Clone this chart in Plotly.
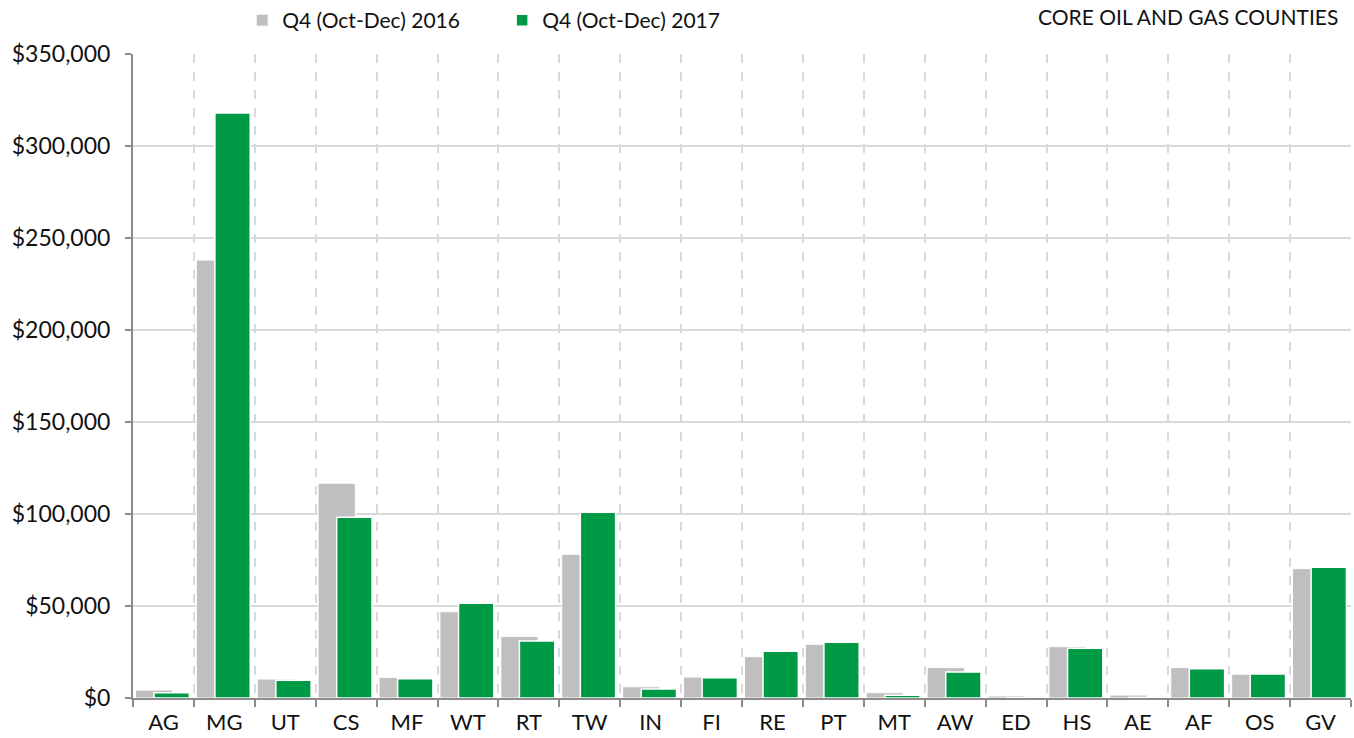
import plotly.graph_objects as go

# County codes and quarterly values (USD)
counties = ["AG", "MG", "UT", "CS", "MF", "WT", "RT", "TW", "IN", "FI",
            "RE", "PT", "MT", "AW", "ED", "HS", "AE", "AF", "OS", "GV"]
q4_2016 = [4300, 238000, 10300, 116700, 11200, 46900, 33500, 78100, 6100, 11400,
           22400, 29200, 2900, 16500, 1100, 27900, 1600, 16500, 12900, 70300]
q4_2017 = [2800, 318000, 9600, 98200, 10500, 51500, 31000, 100900, 4900, 11000,
           25400, 30300, 1500, 14100, 200, 27000, 300, 15900, 13000, 71000]

series_names = ["Q4 (Oct-Dec) 2016", "Q4 (Oct-Dec) 2017"]
y_ticks = [0, 50000, 100000, 150000, 200000, 250000, 300000, 350000]
y_tick_labels = [f"${v:,}" for v in y_ticks]
title_text = "CORE OIL AND GAS COUNTIES"

GRAY = "#bfbfbf"
GREEN = "#009a47"
FONT = "Lato, 'Open Sans', sans-serif"

fig = go.Figure()
fig.add_trace(go.Bar(
    x=counties, y=q4_2016, name=series_names[0],
    marker=dict(color=GRAY, line=dict(color="white", width=1)),
    offset=-0.46, width=0.61,
))
fig.add_trace(go.Bar(
    x=counties, y=q4_2017, name=series_names[1],
    marker=dict(color=GREEN, line=dict(color="white", width=1.5)),
    offset=-0.155, width=0.58,
))

fig.update_layout(
    width=1354, height=738,
    margin=dict(l=133, r=3, t=54, b=40, autoexpand=False),
    barmode="overlay",
    plot_bgcolor="white", paper_bgcolor="white",
    font=dict(family=FONT, size=22, color="#111111"),
    showlegend=True,
    legend=dict(
        orientation="h", x=0.0896, xanchor="left", y=1.0, yanchor="top",
        yref="container", font=dict(size=21, color="#111111"),
        entrywidth=215, entrywidthmode="pixels",
        bgcolor="rgba(0,0,0,0)", traceorder="normal",
    ),
    annotations=[dict(
        text=title_text, xref="paper", yref="paper",
        x=(1340 - 133) / 1218, y=1.0, xanchor="right", yanchor="bottom",
        yshift=23, showarrow=False, font=dict(size=21, color="#111111"),
    )],
)

fig.update_xaxes(
    type="category", tickson="boundaries",
    ticks="outside", ticklen=7, tickwidth=2, tickcolor="#8c8c8c",
    showline=True, linecolor="#8c8c8c", linewidth=2,
    showgrid=True, gridcolor="#d9d9d9", gridwidth=1.5, griddash="dash",
    ticklabelstandoff=4, tickfont=dict(size=22),
)
fig.update_yaxes(
    range=[0, 350000], tickvals=y_ticks, ticktext=y_tick_labels,
    ticks="outside", ticklen=6, tickwidth=2, tickcolor="#8c8c8c",
    showline=True, linecolor="#8c8c8c", linewidth=2,
    showgrid=True, gridcolor="#d9d9d9", gridwidth=2,
    zeroline=False, ticklabelstandoff=10,
    tickfont=dict(size=23),
)

fig.write_html("out.html")
